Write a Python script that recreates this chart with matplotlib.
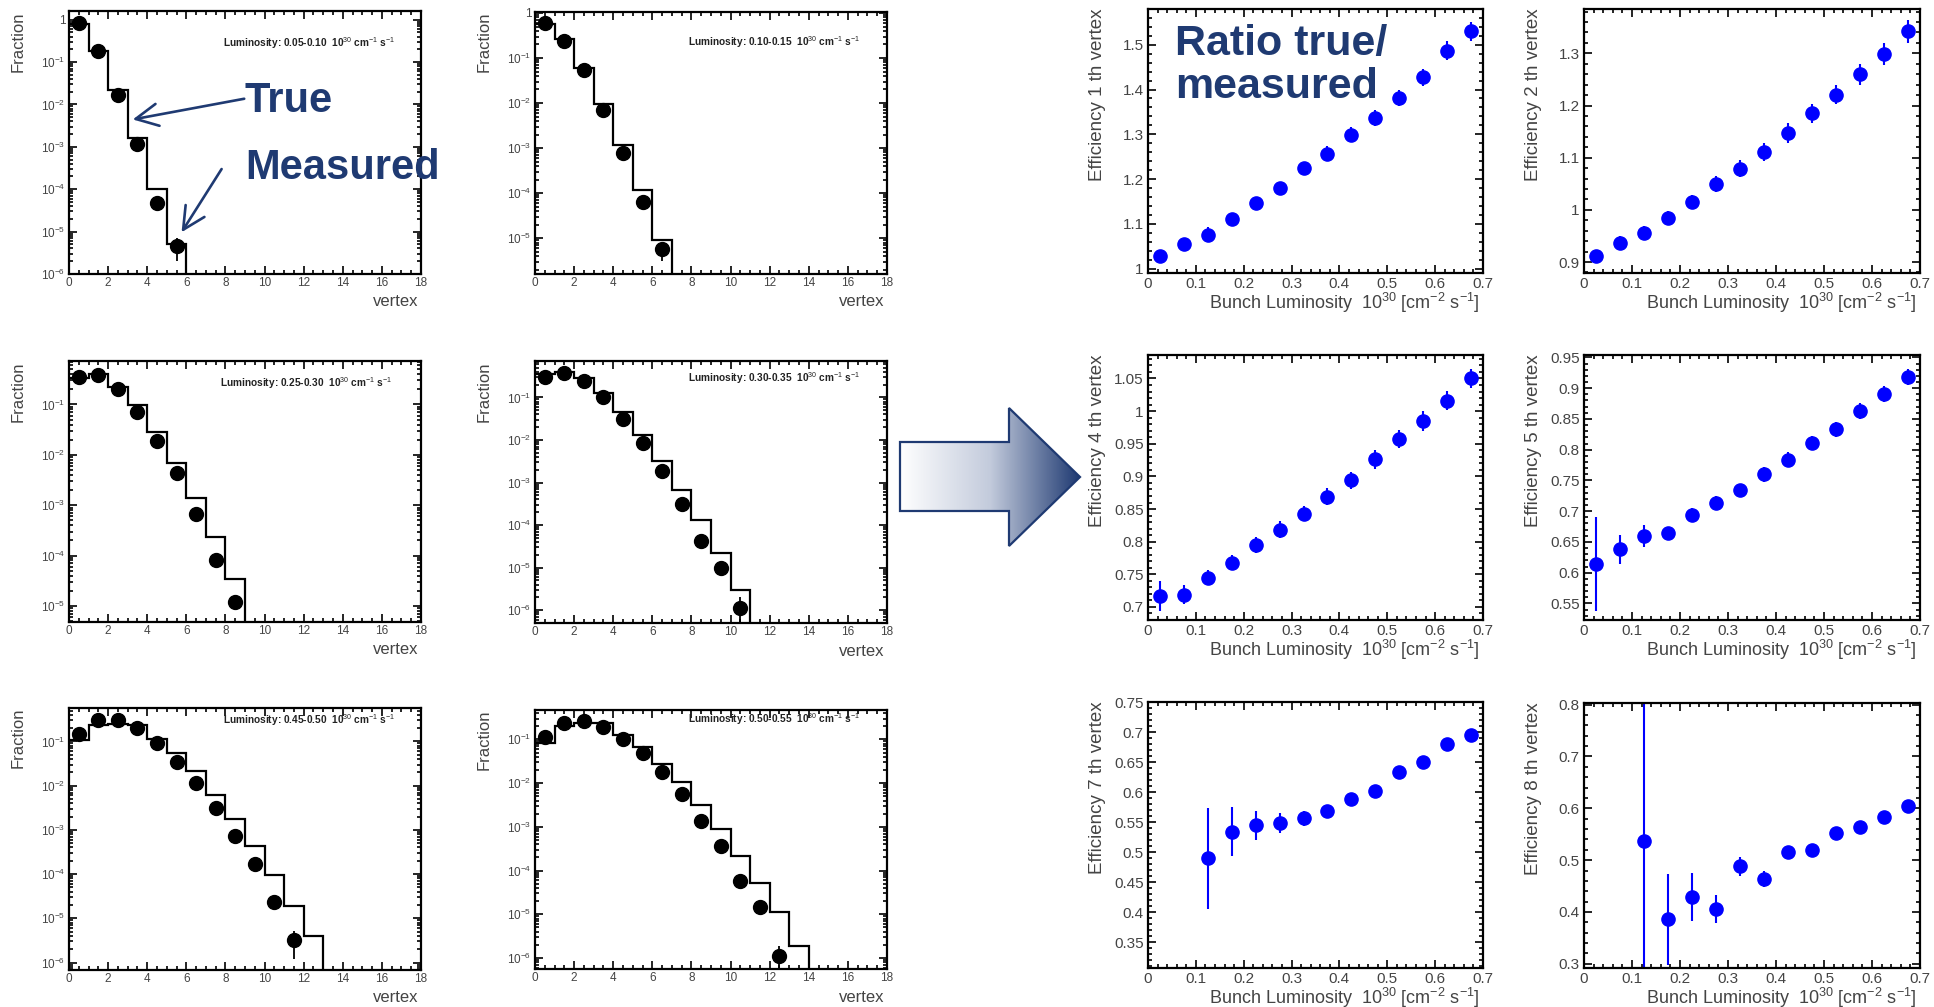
import numpy as np
import matplotlib
matplotlib.use("Agg")
import matplotlib.pyplot as plt
from matplotlib.ticker import LogLocator, NullFormatter, FuncFormatter, MultipleLocator, AutoMinorLocator
from matplotlib.colors import LinearSegmentedColormap
from matplotlib.patches import Polygon
from matplotlib.transforms import ScaledTranslation

plt.rcParams["font.family"] = ["Liberation Sans", "DejaVu Sans"]
plt.rcParams["mathtext.fontset"] = "custom"
plt.rcParams["mathtext.rm"] = "Liberation Sans"
plt.rcParams["mathtext.it"] = "Liberation Sans:italic"
plt.rcParams["mathtext.bf"] = "Liberation Sans:bold"

# Distribuzioni del numero di vertici per bin di luminosita' (frazione, bin larghi 1)
vera_005 = [0.81, 0.18, 0.022, 1.65e-3, 1.03e-4, 5.0e-6]
misurata_005 = [0.84, 0.18, 0.0167, 1.17e-3, 4.8e-5, 4.5e-6]
errore_005 = [0, 0, 0, 0, 0, 2.5e-6]

vera_010 = [0.56, 0.26, 0.06, 9.6e-3, 1.2e-3, 1.17e-4, 9.2e-6]
misurata_010 = [0.60, 0.237, 0.053, 7.1e-3, 7.8e-4, 6.2e-5, 5.6e-6]
errore_010 = [0, 0, 0, 0, 0, 0, 2.5e-6]

vera_025 = [0.33, 0.41, 0.22, 0.097, 0.029, 6.8e-3, 1.4e-3, 2.3e-4, 3.5e-5]
misurata_025 = [0.35, 0.39, 0.20, 0.071, 0.019, 4.3e-3, 6.6e-4, 8.3e-5, 1.2e-5]
errore_025 = [0, 0, 0, 0, 0, 0, 0, 0, 3e-6]

vera_030 = [0.36, 0.40, 0.28, 0.124, 0.046, 0.013, 3.2e-3, 6.8e-4, 1.3e-4, 2.2e-5, 3.0e-6]
misurata_030 = [0.30, 0.377, 0.245, 0.10, 0.032, 8.7e-3, 1.9e-3, 3.1e-4, 4.2e-5, 1.0e-5, 1.1e-6]
errore_030 = [0, 0, 0, 0, 0, 0, 0, 0, 0, 0, 0.9e-6]

vera_045 = [0.11, 0.24, 0.25, 0.23, 0.113, 0.055, 0.021, 6.2e-3, 1.75e-3, 4.4e-4, 9.6e-5, 1.9e-5, 3.9e-6]
misurata_045 = [0.147, 0.31, 0.30, 0.20, 0.092, 0.035, 0.0114, 3.1e-3, 7.4e-4, 1.7e-4, 2.4e-5, 3.2e-6]
errore_045 = [0, 0, 0, 0, 0, 0, 0, 0, 0, 0, 0, 2e-6]

vera_050 = [0.081, 0.20, 0.235, 0.235, 0.125, 0.066, 0.028, 0.0108, 3.1e-3, 8.9e-4, 2.2e-4, 5.2e-5, 1.15e-5, 1.9e-6]
misurata_050 = [0.115, 0.24, 0.26, 0.19, 0.10, 0.048, 0.018, 5.5e-3, 1.35e-3, 3.6e-4, 5.9e-5, 1.5e-5, 1.1e-6]
errore_050 = [0, 0, 0, 0, 0, 0, 0, 0, 0, 0, 0, 0, 0.8e-6]

etichette_lumi = ["0.05-0.10", "0.10-0.15", "0.25-0.30", "0.30-0.35", "0.45-0.50", "0.50-0.55"]

# Rapporto vero/misurato in funzione della luminosita' di bunch
lumi_14 = [0.025, 0.075, 0.125, 0.175, 0.225, 0.275, 0.325, 0.375, 0.425, 0.475, 0.525, 0.575, 0.625, 0.675]
lumi_12 = [0.125, 0.175, 0.225, 0.275, 0.325, 0.375, 0.425, 0.475, 0.525, 0.575, 0.625, 0.675]

eff_1 = [1.028, 1.054, 1.076, 1.110, 1.146, 1.179, 1.224, 1.257, 1.299, 1.336, 1.382, 1.427, 1.487, 1.530]
err_1 = [0.010, 0.012, 0.016, 0.014, 0.014, 0.015, 0.015, 0.016, 0.017, 0.018, 0.018, 0.019, 0.021, 0.022]
eff_2 = [0.911, 0.937, 0.956, 0.985, 1.015, 1.050, 1.079, 1.111, 1.148, 1.185, 1.221, 1.260, 1.299, 1.342]
err_2 = [0.010, 0.012, 0.013, 0.013, 0.014, 0.015, 0.016, 0.017, 0.019, 0.018, 0.019, 0.020, 0.021, 0.022]
eff_4 = [0.717, 0.719, 0.745, 0.768, 0.795, 0.818, 0.843, 0.869, 0.894, 0.926, 0.957, 0.985, 1.016, 1.050]
err_4 = [0.023, 0.014, 0.012, 0.012, 0.012, 0.013, 0.012, 0.013, 0.013, 0.014, 0.014, 0.015, 0.015, 0.015]
eff_5 = [0.614, 0.638, 0.660, 0.664, 0.694, 0.713, 0.734, 0.760, 0.784, 0.811, 0.833, 0.863, 0.890, 0.919]
err_5 = [0.076, 0.024, 0.018, 0.011, 0.011, 0.011, 0.011, 0.012, 0.012, 0.012, 0.012, 0.013, 0.013, 0.013]
eff_7 = [0.490, 0.534, 0.545, 0.548, 0.556, 0.568, 0.588, 0.602, 0.633, 0.650, 0.680, 0.695]
err_7 = [0.084, 0.041, 0.024, 0.017, 0.012, 0.010, 0.010, 0.010, 0.010, 0.010, 0.010, 0.010]
eff_8 = [0.536, 0.386, 0.429, 0.406, 0.488, 0.464, 0.516, 0.520, 0.552, 0.564, 0.584, 0.604]
err_8 = [0.35, 0.088, 0.047, 0.027, 0.019, 0.015, 0.010, 0.010, 0.010, 0.010, 0.010, 0.010]

BLU_SCURO = "#1f3a72"
GRIGIO = "#444444"

W, H = 1934, 1007
fig = plt.figure(figsize=(W / 100, H / 100), dpi=100)
fig.patch.set_facecolor("white")


def crea_assi(sx, alto, dx, basso):
    # posizione in pixel -> frazione di figura
    return fig.add_axes([sx / W, 1 - basso / H, (dx - sx) / W, (basso - alto) / H])


def sposta(ax, dx_px, dy_px):
    # spostamento in pixel rispetto alle coordinate degli assi
    return ax.transAxes + ScaledTranslation(dx_px / 100, dy_px / 100, fig.dpi_scale_trans)


def stile_root(ax, lung_mag, lung_min, size):
    for s in ax.spines.values():
        s.set_linewidth(1.6)
    ax.tick_params(which="both", direction="in", top=True, right=True, width=1.2,
                   labelsize=size, labelcolor=GRIGIO)
    ax.tick_params(which="major", length=lung_mag, pad=3)
    ax.tick_params(which="minor", length=lung_min)


def fmt_log(v, pos):
    if abs(v - 1) < 1e-9:
        return "1"
    return r"$10^{%d}$" % int(round(np.log10(v)))


def fmt_num(v, pos):
    return "%g" % round(v, 4)


# Sfondo a tutta figura per la freccia centrale
sfondo = fig.add_axes([0, 0, 1, 1])
sfondo.set_axis_off()
freccia = [(900, 442), (1009, 442), (1009, 408), (1080, 477), (1009, 546), (1009, 511), (900, 511)]
poly = Polygon(freccia, closed=True, facecolor="none", edgecolor=BLU_SCURO, linewidth=1.6, zorder=3)
sfondo.add_patch(poly)
cmap_freccia = LinearSegmentedColormap.from_list("freccia", ["#ffffff", "#c3cbdc", BLU_SCURO])
grad = sfondo.imshow(np.linspace(0, 1, 256).reshape(1, -1), cmap=cmap_freccia, aspect="auto",
                     extent=(900, 1080, 546, 408), zorder=2)
grad.set_clip_path(poly)
sfondo.set_xlim(0, W)
sfondo.set_ylim(H, 0)

# Istogrammi: vero (linea a gradini) e misurato (punti)
pannelli_hist = [
    ((69, 11, 421, 274), vera_005, misurata_005, errore_005, (1.0e-6, 1.6), (0.926, 0.878)),
    ((535, 12, 887, 274), vera_010, misurata_010, errore_010, (1.6e-6, 1.05), (0.923, 0.887)),
    ((69, 361, 421, 622), vera_025, misurata_025, errore_025, (4.8e-6, 0.73), (0.920, 0.917)),
    ((535, 361, 887, 623), vera_030, misurata_030, errore_030, (5.0e-7, 0.72), (0.923, 0.935)),
    ((69, 708, 421, 970), vera_045, misurata_045, errore_045, (6.8e-7, 0.57), (0.926, 0.954)),
    ((535, 710, 887, 969), vera_050, misurata_050, errore_050, (5.6e-7, 0.47), (0.923, 0.965)),
]

assi_hist = []
for i, (pos, vera, mis, err, ylim, pos_txt) in enumerate(pannelli_hist):
    ax = crea_assi(*pos)
    assi_hist.append(ax)
    ax.set_yscale("log")
    valori = np.append(vera, 1e-12)
    bordi = np.arange(len(valori) + 1)
    ax.stairs(valori, bordi, baseline=None, color="black", linewidth=1.6)
    xc = np.arange(len(mis)) + 0.5
    ax.errorbar(xc, mis, yerr=err, fmt="o", color="black", markersize=10, elinewidth=1.3, capsize=0)
    ax.set_xlim(0, 18)
    ax.set_ylim(*ylim)
    ax.xaxis.set_major_locator(MultipleLocator(2))
    ax.xaxis.set_minor_locator(MultipleLocator(0.5))
    ax.yaxis.set_major_locator(LogLocator(base=10, numticks=20))
    ax.yaxis.set_minor_locator(LogLocator(base=10, subs=np.arange(2, 10), numticks=20))
    ax.yaxis.set_major_formatter(FuncFormatter(fmt_log))
    ax.yaxis.set_minor_formatter(NullFormatter())
    stile_root(ax, 5.5, 3, 8.5)
    ax.tick_params(which="major", pad=2.5)
    ax.text(0, 1, "Fraction", transform=sposta(ax, -51, 0), rotation=90, ha="center", va="top",
            fontsize=12, color=GRIGIO)
    ax.text(1, 0, "vertex", transform=sposta(ax, -3, -28), ha="right", va="center",
            fontsize=12, color=GRIGIO)
    ax.text(pos_txt[0], pos_txt[1],
            "Luminosity: " + etichette_lumi[i] + r"  10$^{30}$ cm$^{-1}$ s$^{-1}$",
            transform=ax.transAxes, ha="right", va="center", fontsize=7.3, fontweight="bold", color="#222222")

# Frecce e scritte sul primo istogramma
ax1 = assi_hist[0]
freccia_kw = dict(arrowstyle="->,head_length=0.8,head_width=0.4", color=BLU_SCURO, lw=1.9, mutation_scale=20)
ax1.annotate("", xy=(3.12, 4.3e-3), xytext=(9.1, 0.014), arrowprops=freccia_kw, annotation_clip=False)
ax1.annotate("", xy=(5.68, 8.5e-6), xytext=(7.88, 3.4e-4), arrowprops=freccia_kw, annotation_clip=False)
ax1.text(9.0, 0.012, "True", ha="left", va="center", fontsize=30, fontweight="bold", color=BLU_SCURO)
ax1.text(9.0, 3.2e-4, "Measured", ha="left", va="center", fontsize=30, fontweight="bold", color=BLU_SCURO)

# Rapporti vero/misurato per i vertici 1, 2, 4, 5, 7, 8
pannelli_eff = [
    ((1148, 9, 1483, 273), lumi_14, eff_1, err_1, (0.99, 1.58), 0.1, "1"),
    ((1584, 9, 1920, 273), lumi_14, eff_2, err_2, (0.879, 1.385), 0.1, "2"),
    ((1148, 355, 1483, 620), lumi_14, eff_4, err_4, (0.68, 1.086), 0.05, "4"),
    ((1584, 355, 1920, 620), lumi_14, eff_5, err_5, (0.523, 0.954), 0.05, "5"),
    ((1148, 702, 1483, 968), lumi_12, eff_7, err_7, (0.307, 0.75), 0.05, "7"),
    ((1584, 703, 1920, 968), lumi_12, eff_8, err_8, (0.292, 0.803), 0.1, "8"),
]

assi_eff = []
for pos, x, y, e, ylim, passo, n in pannelli_eff:
    ax = crea_assi(*pos)
    assi_eff.append(ax)
    ax.errorbar(x, y, yerr=e, fmt="o", color="#0000ff", markersize=9.5, elinewidth=1.5, capsize=0)
    ax.set_xlim(0, 0.7)
    ax.set_ylim(*ylim)
    ax.xaxis.set_major_locator(MultipleLocator(0.1))
    ax.xaxis.set_minor_locator(AutoMinorLocator(5))
    ax.yaxis.set_major_locator(MultipleLocator(passo))
    ax.yaxis.set_minor_locator(AutoMinorLocator(5))
    ax.xaxis.set_major_formatter(FuncFormatter(fmt_num))
    ax.yaxis.set_major_formatter(FuncFormatter(fmt_num))
    stile_root(ax, 6, 3, 11)
    ax.text(0, 1, "Efficiency " + n + " th vertex", transform=sposta(ax, -51, 1), rotation=90,
            ha="center", va="top", fontsize=13.5, color=GRIGIO)
    ax.text(1, 0, r"Bunch Luminosity  10$^{30}$ [cm$^{-2}$ s$^{-1}$]", transform=sposta(ax, -3, -30),
            ha="right", va="center", fontsize=13, color=GRIGIO)

assi_eff[0].text(0.081, 0.945, "Ratio true/\nmeasured", transform=assi_eff[0].transAxes, ha="left", va="top",
                 fontsize=31, fontweight="bold", color=BLU_SCURO, linespacing=1.12)

fig.savefig("out.png", dpi=100, facecolor="white")
